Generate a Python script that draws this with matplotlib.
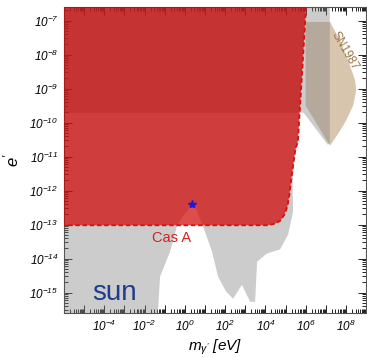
import matplotlib
matplotlib.use("Agg")
import matplotlib.pyplot as plt
import numpy as np
from matplotlib.ticker import LogLocator, FuncFormatter, NullFormatter

plt.rcParams['font.family'] = ['Liberation Sans', 'DejaVu Sans']
plt.rcParams['mathtext.fontset'] = 'custom'
plt.rcParams['mathtext.rm'] = 'Liberation Sans:italic'
plt.rcParams['mathtext.it'] = 'Liberation Sans:italic'
plt.rcParams['mathtext.default'] = 'it'

# all curves given as log10 values (mass in eV, coupling e')
# Cas A bound (red, dashed edge), from top right down and along the bottom
casa_logm = [6.05, 6.02, 5.62, 5.48, 5.30, 5.20, 5.10, 4.95, 4.75, 4.50, 4.10, -7.0]
casa_loge = [-6.0, -6.6, -10.53, -10.83, -11.6, -12.1, -12.45, -12.7, -12.88, -12.97, -13.02, -13.02]

# solar / lab bounds (gray), upper edge is off the plot
sun_logm = [-7.0, 6.00, 5.98, 5.60, 5.44, 5.35, 5.38, 5.13, 4.73, 4.08, 3.59, 3.49, 3.24,
            2.84, 2.40, 2.05, 1.65, 1.35, 0.90, 0.61, 0.36, 0.11, -0.09, -0.39, -0.73,
            -1.23, -1.38, -7.0]
sun_loge = [-6.0, -6.0, -6.6, -10.5, -11.0, -11.8, -12.61, -13.29, -13.73, -13.85, -14.09,
            -15.27, -15.27, -14.77, -15.18, -14.97, -14.53, -13.79, -13.05, -12.61, -12.40,
            -12.61, -12.75, -13.05, -13.79, -14.53, -16.0, -16.0]

# second gray bound covering the top band
band_logm = [-7.0, 7.20, 7.20, 7.10, 5.90, -7.0]
band_loge = [-6.0, -6.0, -10.60, -10.65, -9.71, -9.71]

# SN1987A bound (tan)
sn_logm = [6.00, 7.21, 7.71, 8.11, 8.46, 8.51, 8.36, 8.01, 7.71, 7.21, 6.00]
sn_loge = [-7.04, -7.04, -7.58, -8.17, -8.76, -9.06, -9.50, -9.94, -10.24, -10.68, -9.50]

star_logm = 0.36
star_loge = -12.40

xlabels_shown = [-4, -2, 0, 2, 4, 6, 8]
ylabels_shown = list(range(-15, -6))


def p10(v):
    return np.power(10.0, np.array(v))


fig = plt.figure(figsize=(3.67, 3.58), dpi=100)
ax = fig.add_axes([0.1744, 0.1257, 0.823, 0.8547])

ax.fill(p10(sn_logm), p10(sn_loge), color='#d8c5ad', lw=0, zorder=1)
ax.fill(p10(sun_logm), p10(sun_loge), color='#808080', alpha=0.4, lw=0, zorder=2)
ax.fill(p10(band_logm), p10(band_loge), color='#808080', alpha=0.4, lw=0, zorder=2)
# close the Cas A region through the top-left corner
ax.fill(p10(casa_logm + [-7.0]), p10(casa_loge + [-6.0]), color='#d20000', alpha=0.7, lw=0, zorder=3)
ax.plot(p10(casa_logm), p10(casa_loge), color='#d81010', lw=1.3, ls=(0, (2.5, 1.5)), zorder=4)
ax.plot([10**star_logm], [10**star_loge], marker='*', color='#1a1adc', ms=6, ls='none', zorder=5)

ax.text(10**-3.47, 10**-15.0, 'sun', color='#1e3c87', fontsize=20, ha='center', va='center', zorder=6)
ax.text(10**-0.68, 10**-13.40, 'Cas A', color='#d42020', fontsize=10.5, ha='center', va='center', zorder=6)
ax.text(10**7.92, 10**-7.9, 'SN1987', color='#9a7444', fontsize=8.5, rotation=-60,
        ha='center', va='center', zorder=6)

ax.set_xscale('log')
ax.set_yscale('log')
ax.set_xlim(1e-6, 1e9)
ax.set_ylim(10**-15.6, 10**-6.6)

ax.xaxis.set_major_locator(LogLocator(base=10, numticks=40))
ax.yaxis.set_major_locator(LogLocator(base=10, numticks=40))
ax.xaxis.set_minor_locator(LogLocator(base=10, subs=np.arange(2, 10), numticks=200))
ax.yaxis.set_minor_locator(LogLocator(base=10, subs=np.arange(2, 10), numticks=200))
ax.xaxis.set_minor_formatter(NullFormatter())
ax.yaxis.set_minor_formatter(NullFormatter())


def xfmt(v, pos):
    e = int(round(np.log10(v)))
    return r'$10^{%d}$' % e if e in xlabels_shown else ''


def yfmt(v, pos):
    e = int(round(np.log10(v)))
    return r'$10^{%d}$' % e if e in ylabels_shown else ''


ax.xaxis.set_major_formatter(FuncFormatter(xfmt))
ax.yaxis.set_major_formatter(FuncFormatter(yfmt))

ax.tick_params(which='both', direction='in', top=True, right=True, colors='#222222',
               labelcolor='black', width=0.7)
ax.tick_params(which='major', length=6, labelsize=8.5, pad=4)
ax.tick_params(which='minor', length=3)
for s in ax.spines.values():
    s.set_color('#555555')
    s.set_linewidth(0.8)

ax.set_xlabel(r"$m_{\gamma'}\ [eV]$", fontsize=11, labelpad=3)
ax.set_ylabel(r"$e'$", fontsize=12, labelpad=6)

fig.savefig('out.png', dpi=100)
